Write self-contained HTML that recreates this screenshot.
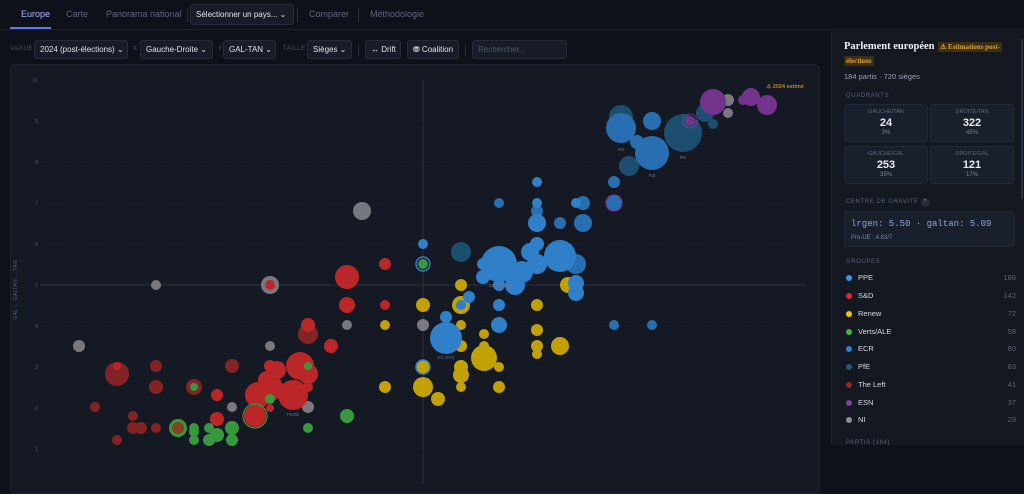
<!DOCTYPE html>
<html><head><meta charset="utf-8"><style>
*{box-sizing:border-box;margin:0;padding:0}
body{width:1024px;height:484px;overflow:hidden;background:#0e1119;font-family:"Liberation Sans",sans-serif;color:#cdd3e0;position:relative;white-space:nowrap}
.nav{position:absolute;left:0;top:0;width:1024px;height:30px;border-bottom:1px solid #1e2330}
.nav span{position:absolute;top:9px;font-size:9px;color:#5d6680}
.sel{position:absolute;background:#181c28;border:1px solid #262b39;border-radius:3px;font-size:8px;color:#dfe3ee;padding:0 5px;line-height:17px;height:19px;white-space:nowrap;overflow:hidden}
.lbl{position:absolute;font-size:6px;color:#4c546a;letter-spacing:.5px;top:46px}
.side{position:absolute;left:831px;top:31px;width:193px;height:414px;background:#141821;border-left:1px solid #1f2431}
.q{position:absolute;width:84px;height:38px;background:#1a1f2c;border:1px solid #222838;border-radius:3px;text-align:center}
.q .t{font-size:5.5px;color:#5f6880;margin-top:4px}
.q .n{font-size:11px;font-weight:bold;color:#e8ebf3;margin-top:2px}
.q .p{font-size:6px;color:#7c849a;margin-top:1px}
.g{position:absolute;left:14px;font-size:7.5px;color:#d6dae6;width:170px}
.g i{display:inline-block;width:6px;height:6px;border-radius:50%;margin-right:6px;vertical-align:-0.5px}
.g b{position:absolute;right:0;font-weight:normal;color:#5a6278}
.h{position:absolute;left:14px;font-size:6px;color:#59627a;letter-spacing:.6px}
</style></head><body>
<div class="nav">
<span style="left:21px;color:#aab8ff">Europe</span>
<div style="position:absolute;left:10px;top:27px;width:41px;height:2px;background:#5b7cf0"></div>
<span style="left:66px">Carte</span>
<span style="left:106px">Panorama national</span>
<div style="position:absolute;left:187px;top:8px;width:1px;height:14px;background:#262b39"></div>
<div class="sel" style="left:190px;top:4px;height:21px;line-height:20px;width:104px;font-size:8px">Sélectionner un pays... ⌄</div>
<div style="position:absolute;left:297px;top:8px;width:1px;height:14px;background:#262b39"></div>
<span style="left:309px">Comparer</span>
<div style="position:absolute;left:358px;top:8px;width:1px;height:14px;background:#262b39"></div>
<span style="left:370px">Méthodologie</span>
</div>
<span class="lbl" style="left:10px">VAGUE</span>
<div class="sel" style="left:34px;top:40px;width:94px">2024 (post-élections) ⌄</div>
<span class="lbl" style="left:133px">X</span>
<div class="sel" style="left:140px;top:40px;width:73px">Gauche-Droite ⌄</div>
<span class="lbl" style="left:218px">Y</span>
<div class="sel" style="left:223px;top:40px;width:53px">GAL-TAN ⌄</div>
<span class="lbl" style="left:283px">TAILLE</span>
<div class="sel" style="left:307px;top:40px;width:45px">Sièges ⌄</div>
<div style="position:absolute;left:358px;top:44px;width:1px;height:12px;background:#262b39"></div>
<div class="sel" style="left:365px;top:40px;width:36px">↔ Drift</div>
<div class="sel" style="left:407px;top:40px;width:52px">⛃ Coalition</div>
<div style="position:absolute;left:465px;top:44px;width:1px;height:12px;background:#262b39"></div>
<div class="sel" style="left:472px;top:40px;width:95px;color:#4f576c">Rechercher...</div>

<div style="position:absolute;left:10px;top:64px;width:810px;height:430px;background:#151924;border:1px solid #1d2130;border-radius:5px"></div>
<svg style="position:absolute;left:0;top:0" width="830" height="484">
<g stroke="#20263a" stroke-width="0.6" stroke-dasharray="2,3">
<line x1="40" x2="805" y1="80" y2="80"/><line x1="40" x2="805" y1="121" y2="121"/><line x1="40" x2="805" y1="162" y2="162"/><line x1="40" x2="805" y1="203" y2="203"/><line x1="40" x2="805" y1="244" y2="244"/><line x1="40" x2="805" y1="326" y2="326"/><line x1="40" x2="805" y1="367" y2="367"/><line x1="40" x2="805" y1="408" y2="408"/><line x1="40" x2="805" y1="449" y2="449"/>
</g>
<line x1="40" x2="805" y1="285" y2="285" stroke="#2a3042" stroke-width="1"/>
<line x1="423" x2="423" y1="80" y2="484" stroke="#2a3042" stroke-width="1"/>
<g font-size="5.5" fill="#4e566c" text-anchor="end">
<text x="38" y="82">10</text><text x="38" y="123">9</text><text x="38" y="164">8</text><text x="38" y="205">7</text><text x="38" y="246">6</text><text x="38" y="287">5</text><text x="38" y="328">4</text><text x="38" y="369">3</text><text x="38" y="410">2</text><text x="38" y="451">1</text>
</g>
<text transform="translate(17,290) rotate(-90)" font-size="5.5" fill="#4e5a7a" text-anchor="middle">GAL ← GALTAN → TAN</text>
<text x="804" y="88" font-size="5.5" fill="#b8862a" text-anchor="end" font-weight="bold">⚠ 2024 estimé</text>
<g opacity="0.82">
<g fill="#8e8e92"><circle cx="362" cy="211" r="9"/><circle cx="156" cy="285" r="5"/><circle cx="270" cy="285" r="9"/><circle cx="347" cy="325" r="5"/><circle cx="79" cy="346" r="6"/><circle cx="270" cy="346" r="5"/><circle cx="232" cy="407" r="5"/><circle cx="308" cy="407" r="6"/><circle cx="423" cy="325" r="6"/><circle cx="728" cy="100" r="6"/><circle cx="728" cy="113" r="5"/></g>
<g fill="#9c2626"><circle cx="308" cy="334" r="10"/><circle cx="117" cy="374" r="12"/><circle cx="156" cy="366" r="6"/><circle cx="156" cy="387" r="7"/><circle cx="232" cy="366" r="7"/><circle cx="194" cy="387" r="8"/><circle cx="95" cy="407" r="5"/><circle cx="133" cy="416" r="5"/><circle cx="133" cy="428" r="6"/><circle cx="141" cy="428" r="6"/><circle cx="156" cy="428" r="5"/><circle cx="117" cy="440" r="5"/></g>
<g fill="#e02a2a"><circle cx="385" cy="264" r="6"/><circle cx="270" cy="285" r="5"/><circle cx="347" cy="277" r="12"/><circle cx="347" cy="305" r="8"/><circle cx="385" cy="305" r="5"/><circle cx="308" cy="325" r="7"/><circle cx="331" cy="346" r="7"/><circle cx="117" cy="366" r="4"/><circle cx="217" cy="395" r="6"/><circle cx="270" cy="366" r="6"/><circle cx="277" cy="370" r="9"/><circle cx="300" cy="366" r="14"/><circle cx="308" cy="374" r="10"/><circle cx="267" cy="380" r="9"/><circle cx="270" cy="388" r="13"/><circle cx="258" cy="395" r="13"/><circle cx="293" cy="395" r="15"/><circle cx="270" cy="408" r="4"/><circle cx="308" cy="387" r="5"/><circle cx="255" cy="416" r="11"/><circle cx="217" cy="419" r="7"/></g>
<g fill="#3fb545"><circle cx="194" cy="387" r="4"/><circle cx="308" cy="366" r="4"/><circle cx="270" cy="399" r="5"/><circle cx="347" cy="416" r="7"/><circle cx="308" cy="428" r="5"/><circle cx="178" cy="428" r="9"/><circle cx="194" cy="428" r="5"/><circle cx="194" cy="432" r="5"/><circle cx="194" cy="440" r="5"/><circle cx="209" cy="428" r="5"/><circle cx="217" cy="435" r="7"/><circle cx="209" cy="440" r="6"/><circle cx="232" cy="428" r="7"/><circle cx="232" cy="440" r="6"/><circle cx="423" cy="264" r="5"/></g>
<circle cx="255" cy="416" r="12" fill="none" stroke="#3fb545" stroke-width="1.2"/>
<circle cx="178" cy="428" r="6" fill="#9c4a26"/>
<g fill="#e8c000"><circle cx="385" cy="325" r="5"/><circle cx="385" cy="387" r="6"/><circle cx="568" cy="285" r="8"/><circle cx="461" cy="285" r="6"/><circle cx="461" cy="305" r="9"/><circle cx="423" cy="305" r="7"/><circle cx="537" cy="305" r="6"/><circle cx="461" cy="325" r="5"/><circle cx="484" cy="334" r="5"/><circle cx="537" cy="330" r="6"/><circle cx="461" cy="346" r="6"/><circle cx="484" cy="346" r="5"/><circle cx="484" cy="358" r="13"/><circle cx="537" cy="346" r="6"/><circle cx="537" cy="354" r="5"/><circle cx="560" cy="346" r="9"/><circle cx="423" cy="367" r="7"/><circle cx="461" cy="367" r="7"/><circle cx="461" cy="375" r="8"/><circle cx="499" cy="367" r="5"/><circle cx="423" cy="387" r="10"/><circle cx="461" cy="387" r="5"/><circle cx="499" cy="387" r="6"/><circle cx="438" cy="399" r="7"/></g>
<g fill="#1e5a80"><circle cx="461" cy="252" r="10"/><circle cx="621" cy="117" r="12"/><circle cx="629" cy="166" r="10"/><circle cx="683" cy="133" r="19"/><circle cx="705" cy="113" r="9"/><circle cx="713" cy="124" r="5"/><circle cx="640" cy="142" r="5"/><circle cx="652" cy="162" r="5"/></g>
<g fill="#2c82d0"><circle cx="621" cy="128" r="15"/><circle cx="652" cy="121" r="9"/><circle cx="652" cy="153" r="17"/><circle cx="637" cy="142" r="7"/><circle cx="614" cy="182" r="6"/><circle cx="614" cy="203" r="8"/><circle cx="583" cy="203" r="7"/><circle cx="583" cy="223" r="9"/><circle cx="560" cy="223" r="6"/><circle cx="499" cy="203" r="5"/><circle cx="537" cy="211" r="6"/><circle cx="576" cy="264" r="10"/><circle cx="614" cy="325" r="5"/><circle cx="652" cy="325" r="5"/></g>
<g fill="#3596ee"><circle cx="576" cy="203" r="5"/><circle cx="537" cy="182" r="5"/><circle cx="537" cy="203" r="5"/><circle cx="537" cy="223" r="9"/><circle cx="537" cy="244" r="7"/><circle cx="423" cy="244" r="5"/><circle cx="499" cy="264" r="18"/><circle cx="560" cy="256" r="16"/><circle cx="530" cy="252" r="9"/><circle cx="537" cy="264" r="10"/><circle cx="522" cy="272" r="11"/><circle cx="515" cy="285" r="10"/><circle cx="483" cy="264" r="6"/><circle cx="483" cy="277" r="7"/><circle cx="499" cy="285" r="6"/><circle cx="576" cy="283" r="8"/><circle cx="576" cy="293" r="8"/><circle cx="469" cy="297" r="6"/><circle cx="499" cy="305" r="6"/><circle cx="446" cy="317" r="6"/><circle cx="446" cy="338" r="16"/><circle cx="499" cy="325" r="8"/><circle cx="461" cy="305" r="5"/></g>
<circle cx="423" cy="264" r="7" fill="none" stroke="#3596ee" stroke-width="1.5"/>
<circle cx="423" cy="367" r="7" fill="none" stroke="#3596ee" stroke-width="1.5"/>
<g fill="#8a3aa6"><circle cx="713" cy="102" r="13"/><circle cx="751" cy="97" r="9"/><circle cx="767" cy="105" r="10"/><circle cx="743" cy="100" r="5"/><circle cx="690" cy="121" r="5"/></g>
<circle cx="690" cy="121" r="7" fill="none" stroke="#a060c0" stroke-width="1" stroke-dasharray="1.5,1"/>
<circle cx="614" cy="203" r="8" fill="none" stroke="#8a3aa6" stroke-width="1.3"/>
</g>
<g font-size="4.5" fill="#6a7288" text-anchor="middle"><text x="621" y="151">PiS</text><text x="652" y="177">FdI</text><text x="683" y="159">RN</text><text x="446" y="359">KO (PO)</text><text x="293" y="416">PSOE</text><text x="499" y="287">CDU/CSU</text></g>
</svg>

<div class="side">
<div style="position:absolute;left:12px;top:10px;font-family:'Liberation Serif',serif;font-weight:bold;font-size:10.5px;color:#eef0f6">Parlement européen</div>
<div style="position:absolute;left:106px;top:11px;background:#3a2e14;color:#e0a030;font-family:'Liberation Serif',serif;font-weight:bold;font-size:7px;padding:1px 2px">⚠ Estimations post-</div>
<div style="position:absolute;left:12px;top:25px;background:#3a2e14;color:#e0a030;font-family:'Liberation Serif',serif;font-weight:bold;font-size:7px;padding:1px 2px">élections</div>
<div style="position:absolute;left:12px;top:41px;font-size:7.5px;color:#9aa2b6">184 partis · 720 sièges</div>
<div class="h" style="top:62px">QUADRANTS</div>
<div class="q" style="left:12px;top:73px"><div class="t">GAUCHE/TAN</div><div class="n">24</div><div class="p">3%</div></div>
<div class="q" style="left:98px;top:73px"><div class="t">DROITE/TAN</div><div class="n">322</div><div class="p">45%</div></div>
<div class="q" style="left:12px;top:115px"><div class="t">GAUCHE/GAL</div><div class="n">253</div><div class="p">35%</div></div>
<div class="q" style="left:98px;top:115px"><div class="t">DROITE/GAL</div><div class="n">121</div><div class="p">17%</div></div>
<div class="h" style="top:167px">CENTRE DE GRAVITÉ <span style="display:inline-block;width:9px;height:9px;border-radius:50%;background:#242a3a;text-align:center;line-height:9px;font-size:5px;color:#8a92a8">?</span></div>
<div style="position:absolute;left:12px;top:180px;width:171px;height:36px;background:#1a1f2c;border:1px solid #222838;border-radius:3px">
<div style="position:absolute;left:6px;top:7px;font-family:'Liberation Mono',monospace;font-size:9px;color:#8fa6e8">lrgen: 5.50 · galtan: 5.09</div>
<div style="position:absolute;left:6px;top:23px;font-size:6px;color:#7c849a">Pro-UE : 4.83/7</div></div>
<div class="h" style="top:228px">GROUPES</div>
<div class="g" style="top:242px"><i style="background:#3596ee"></i>PPE<b>186</b></div>
<div class="g" style="top:260px"><i style="background:#e02a2a"></i>S&amp;D<b>142</b></div>
<div class="g" style="top:278px"><i style="background:#f0c800"></i>Renew<b>72</b></div>
<div class="g" style="top:296px"><i style="background:#3fb545"></i>Verts/ALE<b>58</b></div>
<div class="g" style="top:313px"><i style="background:#2c82d0"></i>ECR<b>80</b></div>
<div class="g" style="top:331px"><i style="background:#1e5a80"></i>PfE<b>83</b></div>
<div class="g" style="top:349px"><i style="background:#9c2626"></i>The Left<b>41</b></div>
<div class="g" style="top:367px"><i style="background:#8a3aa6"></i>ESN<b>37</b></div>
<div class="g" style="top:384px"><i style="background:#8e8e92"></i>NI<b>29</b></div>
<div class="h" style="top:409px">PARTIS (184)</div>
<div style="position:absolute;right:1px;top:8px;width:2px;height:160px;background:#2a3040"></div>
</div>
</body></html>
